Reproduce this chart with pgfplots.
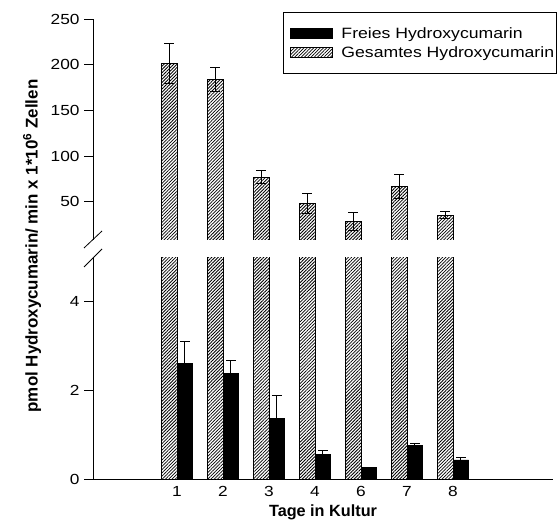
\documentclass[border=0pt]{standalone}
\usepackage{fontspec}
\setmainfont{Liberation Sans}[FakeStretch=1.18, BoldFeatures={FakeStretch=1.0}]
\usepackage{pgfplots}
\usepackage{pgfplotstable}
\pgfplotsset{compat=1.18}
\usetikzlibrary{patterns.meta}

\pgfplotstableread{
x xs y e
1 0.8315 202 22
2 1.8315 184 13
3 2.8315 77 7
4 3.8315 48 11
5 4.8315 28 10
6 5.8315 67 13
7 6.8315 35.4 3.6
}\gesamt

\pgfplotstableread{
x xs y e
1 1.1685 2.60 0.49
2 2.1685 2.37 0.29
3 3.1685 1.37 0.50
4 4.1685 0.56 0.08
5 5.1685 0.26 0.01
6 6.1685 0.76 0.04
7 7.1685 0.43 0.06
}\freies

\begin{document}
\begin{tikzpicture}[x=1bp,y=1bp]
\path[use as bounding box] (0,0) rectangle (560,521);
\pgfplotsset{
  common/.style={
    scale only axis, width=460bp, xmin=-0.826, xmax=9.174,
    axis line style={line width=0.8bp, black},
    tick style={line width=0.8bp, black},
    tick align=outside, major tick length=9bp,
    tick label style={font=\fontsize{14.7}{16}\selectfont},
    /pgf/number format/assume math mode=true,
    yticklabel style={xshift=-1bp},
    clip=true,
  },
  hatchbar/.style={ybar, bar width=15.5bp, bar shift=-7.75bp, draw=black, line width=0.8bp,
    pattern={Lines[angle=45, distance=2.3bp, line width=0.8bp]}, pattern color=black},
  blackbar/.style={ybar, bar width=15.5bp, bar shift=7.75bp, draw=black, fill=black, line width=0.5bp},
  errbar/.style={draw=none, no marks, forget plot,
    error bars/y dir=both, error bars/y explicit,
    error bars/error mark options={rotate=90, mark size=5bp, line width=0.8bp, draw=black, black},
    error bars/error bar style={line width=0.8bp, draw=black}},
}
% lower axis
\begin{axis}[common, at={(93bp,42bp)}, anchor=south west, height=221bp,
  ymin=0, ymax=4.97, ytick={0,2,4},
  axis x line*=bottom, axis y line*=left,
  xtick={1,...,7}, xticklabels={1,2,3,4,6,7,8},
  x tick style={draw=none},
  xticklabel style={yshift=5bp},
  xlabel={\bfseries Tage in Kultur},
  xlabel style={font=\fontsize{16.3}{18}\selectfont, yshift=-1bp},
]
\addplot[hatchbar] table[x=x, y=y]{\gesamt};
\addplot[blackbar] table[x=x, y=y]{\freies};
\addplot[errbar] table[x=xs, y=y, y error=e]{\freies};
\end{axis}
% upper axis
\begin{axis}[common, at={(93bp,281bp)}, anchor=south west, height=220.7bp,
  ymin=8, ymax=250, ytick={50,100,150,200,250},
  axis x line=none, axis y line*=left,
  legend image code/.code={\path (-6bp,0bp) (49bp,0bp); \draw[#1] (0bp,-5bp) rectangle (42bp,5bp);},
  legend style={at={(1.0087,1.033)}, anchor=north east, draw=black, line width=0.8bp,
    font=\fontsize{15}{17}\selectfont, inner xsep=0.5bp, inner ysep=13bp, row sep=2.5bp,
    cells={anchor=west}},
  legend cell align=left,
]
\addlegendimage{black, fill=black, line width=0.5bp}
\addlegendentry{Freies Hydroxycumarin}
\addplot[hatchbar] table[x=x, y=y]{\gesamt};
\addlegendentry{Gesamtes Hydroxycumarin}
\addplot[errbar] table[x=xs, y=y, y error=e]{\gesamt};
\end{axis}
% axis break marks
\draw[line width=0.8bp] (84,273) -- (102,290);
\draw[line width=0.8bp] (84,254) -- (102,272);
% y label spanning both panels
\node[rotate=90, font=\bfseries\fontsize{17}{19}\selectfont] at (32,275)
  {pmol Hydroxycumarin/ min x 1*10\textsuperscript{6} Zellen};
\end{tikzpicture}
\end{document}
